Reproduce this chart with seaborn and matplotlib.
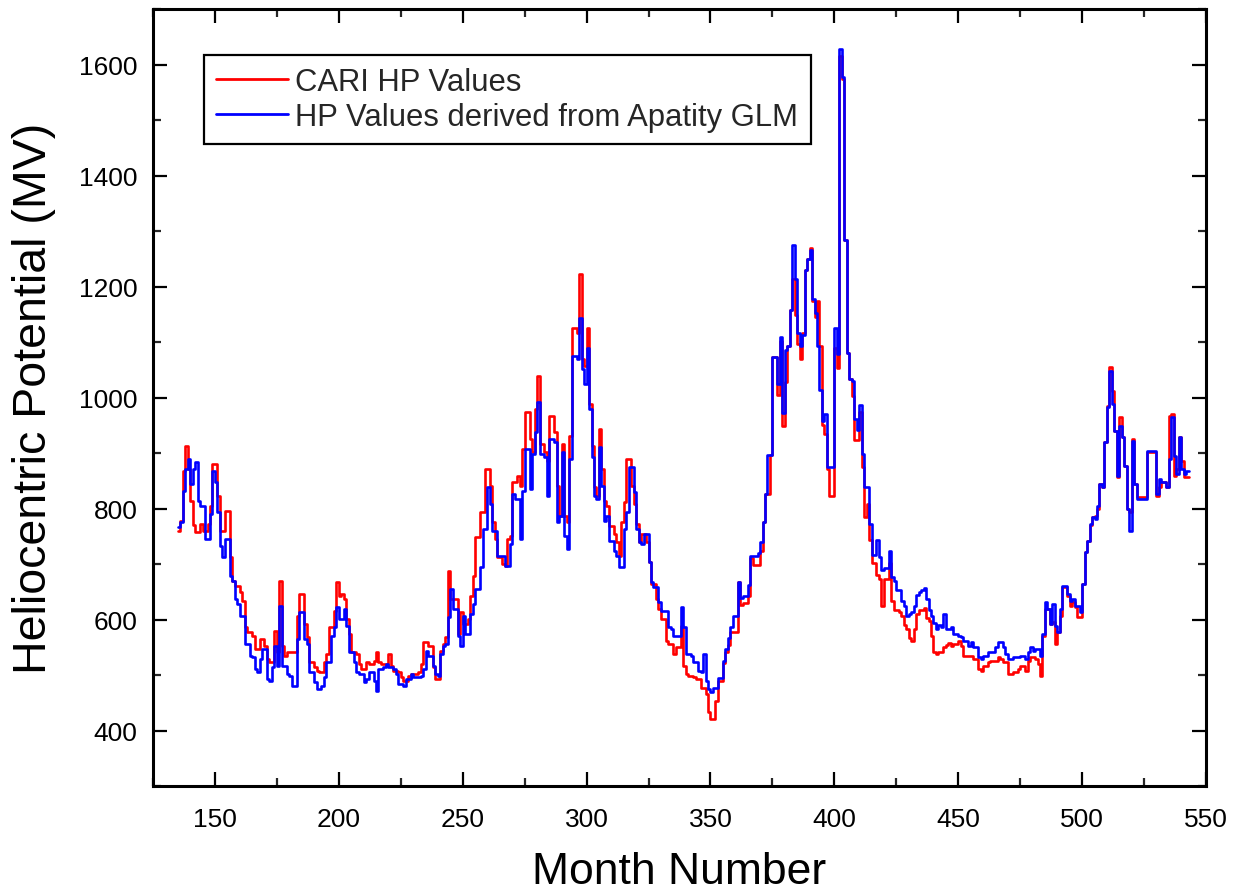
import numpy as np
import matplotlib
matplotlib.use("Agg")
import matplotlib.pyplot as plt
from matplotlib.ticker import MultipleLocator
import seaborn as sns

# ---- data (step breakpoints) ----
cari_month = [135,136,137,138,139,140,141,142,144,145,147,148,149,151,152,154,156,157,158,160,161,162,163,165,166,168,170,171,172,174,175,176,177,178,179,183,184,186,187,188,190,191,192,194,195,196,198,199,200,201,202,203,204,205,207,208,209,211,212,214,215,216,217,219,220,221,222,224,225,226,228,229,232,233,234,236,238,239,241,242,243,244,245,248,249,250,252,253,254,255,257,259,261,262,263,264,266,267,268,269,270,272,273,274,275,277,278,279,280,281,283,284,285,287,288,289,290,291,292,293,294,296,297,298,299,300,301,302,303,304,305,306,307,308,309,311,312,313,314,315,316,318,319,320,321,322,324,325,326,328,329,330,332,333,335,336,338,339,340,341,343,344,346,348,349,350,352,353,355,356,357,358,361,362,363,365,366,367,370,371,372,374,375,377,378,379,380,381,382,383,384,385,386,387,388,389,390,391,392,393,394,395,396,397,398,400,401,402,403,404,405,406,407,408,410,411,412,413,414,415,417,418,419,420,422,423,424,426,427,428,429,430,431,432,433,434,436,437,438,439,440,441,442,444,445,446,447,448,450,451,452,456,458,459,460,462,463,466,467,468,470,472,474,475,477,478,479,481,482,483,484,485,487,488,489,490,491,492,494,495,496,497,498,500,501,502,503,504,505,506,507,508,509,510,511,512,513,514,515,516,517,518,519,520,521,522,526,530,531,532,534,535,536,537,538,539,540,541,543]
cari_hp = [760,778,868,913,871,814,770,757,772,760,772,805,880,823,760,796,712,670,661,649,634,586,577,571,547,565,553,529,523,580,541,670,553,535,541,607,646,592,568,523,514,508,505,523,538,586,616,667,643,646,637,601,574,541,538,520,511,523,520,526,541,523,520,517,538,517,508,505,496,490,499,502,505,520,559,553,514,493,544,556,568,688,637,574,613,592,601,643,679,748,793,871,841,775,745,712,700,697,745,751,847,859,841,907,973,925,901,979,1039,916,901,886,967,937,841,787,916,787,775,931,1126,1117,1223,1069,1057,1126,988,913,838,823,943,871,814,805,769,754,739,715,775,811,889,841,808,772,739,754,739,703,664,637,619,601,562,556,538,550,589,517,502,499,496,493,477,465,433,421,453,490,522,542,554,578,667,626,630,642,711,699,723,775,827,896,1073,1004,1101,948,1028,1093,1157,1214,1149,1097,1069,1117,1230,1250,1270,1173,1145,1173,1093,950,935,872,823,1090,1053,1616,1573,1283,1081,1034,1002,923,974,875,784,808,744,701,681,673,625,673,701,633,617,613,606,590,582,566,562,582,610,617,621,602,598,570,542,538,542,550,554,558,553,556,562,553,535,529,511,508,517,523,526,532,529,523,502,505,511,517,508,526,532,529,520,499,571,619,592,595,556,577,607,658,643,625,631,622,604,664,721,742,770,784,787,799,844,838,919,985,1055,1012,940,856,964,928,877,799,793,925,844,820,901,823,838,847,838,967,970,859,871,928,886,856,856]

glm_month = [135,136,137,138,139,140,141,142,143,144,146,148,149,150,151,152,153,154,156,157,158,159,160,162,164,165,166,167,168,169,171,172,173,174,175,176,177,179,180,181,183,184,186,187,188,190,191,193,194,195,197,198,199,200,202,203,204,206,207,208,210,211,212,214,215,216,218,219,220,222,223,224,226,227,229,230,233,234,235,236,238,239,240,241,242,243,244,245,246,248,249,250,251,253,254,255,257,258,260,261,262,264,267,269,270,271,273,274,275,277,278,279,280,281,283,284,285,287,288,289,290,291,292,293,294,296,297,298,299,300,301,302,303,304,305,306,307,308,309,311,312,313,315,316,317,319,320,321,322,323,325,326,327,329,330,333,334,335,338,339,340,342,343,345,346,347,348,349,350,351,353,355,356,357,358,359,361,362,363,365,366,369,370,371,372,373,375,377,378,379,380,381,382,383,384,385,386,387,388,389,390,391,392,393,394,395,396,397,400,401,402,403,404,405,406,407,408,409,410,411,412,414,415,417,418,419,420,422,423,424,425,427,428,429,430,431,432,433,434,435,436,437,438,439,440,441,442,443,444,445,447,448,450,451,452,454,455,456,458,459,460,462,465,466,468,469,470,472,475,477,478,479,480,481,483,484,485,486,487,488,489,490,491,492,494,495,496,497,499,500,501,502,503,504,505,506,507,508,509,510,511,512,513,514,515,516,517,518,519,520,521,522,526,530,531,532,534,535,536,537,538,539,540,541,542,543]
glm_hp = [766,775,832,871,889,844,871,883,814,805,745,790,868,847,793,733,712,745,679,670,637,628,607,556,535,532,511,505,529,547,493,490,514,553,517,625,517,502,499,481,565,613,565,556,505,487,475,481,496,523,571,586,622,601,619,589,541,523,505,502,487,493,505,490,472,511,514,520,514,511,502,484,481,493,502,496,499,511,544,535,517,502,499,538,553,556,604,655,619,571,553,607,574,610,628,655,694,763,838,808,760,715,697,736,826,817,745,832,907,835,898,937,991,898,892,823,925,919,775,787,901,751,727,889,1075,1069,1144,1051,1024,1090,979,892,823,817,910,841,778,787,742,724,715,694,763,793,874,829,763,739,736,754,703,667,658,631,616,586,583,571,622,586,538,535,523,508,505,538,490,474,470,477,494,526,546,566,586,606,667,638,642,663,715,719,739,775,827,896,1073,1024,1109,972,1085,1093,1157,1274,1214,1117,1093,1113,1230,1250,1266,1177,1153,1093,1014,958,970,875,1125,1079,1628,1577,1283,1081,1034,1030,962,942,986,899,839,772,717,744,713,689,693,724,677,669,653,633,625,606,610,614,625,645,649,653,657,637,617,606,594,582,590,586,610,582,586,574,571,568,562,553,559,550,532,529,535,541,550,559,550,538,529,532,535,529,541,550,544,547,535,574,631,619,592,628,589,577,619,661,646,634,637,625,613,664,721,742,772,784,781,805,844,838,919,982,1048,988,940,859,949,928,877,799,760,922,844,817,904,826,853,847,838,889,964,895,862,928,871,862,868,868]

series_labels = ["CARI HP Values", "HP Values derived from Apatity GLM"]
x_ticks = [150, 200, 250, 300, 350, 400, 450, 500, 550]
y_ticks = [400, 600, 800, 1000, 1200, 1400, 1600]

# ---- style ----
sns.set_theme(style="ticks")
plt.rcParams["font.family"] = ["Liberation Sans", "DejaVu Sans"]

W, H = 1237, 895
fig = plt.figure(figsize=(W / 100, H / 100), dpi=100)
L, R, T, B = 153, 1206, 10, 787
ax = fig.add_axes([L / W, 1 - B / H, (R - L) / W, (B - T) / H])

sns.lineplot(x=cari_month, y=cari_hp, ax=ax, color="#FF0000", lw=1.9,
             drawstyle="steps-post", estimator=None, sort=False, label=series_labels[0])
sns.lineplot(x=glm_month, y=glm_hp, ax=ax, color="#0000FF", lw=1.9,
             drawstyle="steps-post", estimator=None, sort=False, label=series_labels[1])

ax.set_xlim(125, 550)
ax.set_ylim(300, 1700)
ax.set_xticks(x_ticks)
ax.set_yticks(y_ticks)
ax.xaxis.set_minor_locator(MultipleLocator(25))
ax.yaxis.set_minor_locator(MultipleLocator(100))

for s in ax.spines.values():
    s.set_linewidth(2.2)
    s.set_color("black")
    s.set_visible(True)

ax.tick_params(axis="both", which="major", direction="in", length=10, width=1.6,
               labelsize=19, colors="black", pad=11, top=True, right=True)
ax.tick_params(axis="both", which="minor", direction="in", length=5.5, width=1.6,
               top=True, right=True)
ax.tick_params(axis="x", which="major", pad=15)

ax.set_xlabel("Month Number", fontsize=32, color="black")
ax.set_ylabel("Heliocentric Potential (MV)", fontsize=33.5, color="black")
ax.xaxis.set_label_coords(0.5, -0.084)
ax.yaxis.set_label_coords(-0.092, 0.5)

leg = ax.legend(loc="upper left", bbox_to_anchor=(0.0484, 0.941), borderaxespad=0,
                fontsize=22.3, frameon=True, fancybox=False, shadow=False,
                handlelength=2.3, handletextpad=0.25, labelspacing=0.15,
                borderpad=0.4)
leg.get_frame().set_edgecolor("black")
leg.get_frame().set_linewidth(1.6)
leg.get_frame().set_alpha(1)
for ln in leg.get_lines():
    ln.set_linewidth(2.0)

ax.set_facecolor("white")
fig.patch.set_facecolor("white")
fig.savefig("out.png", dpi=100, facecolor="white")
